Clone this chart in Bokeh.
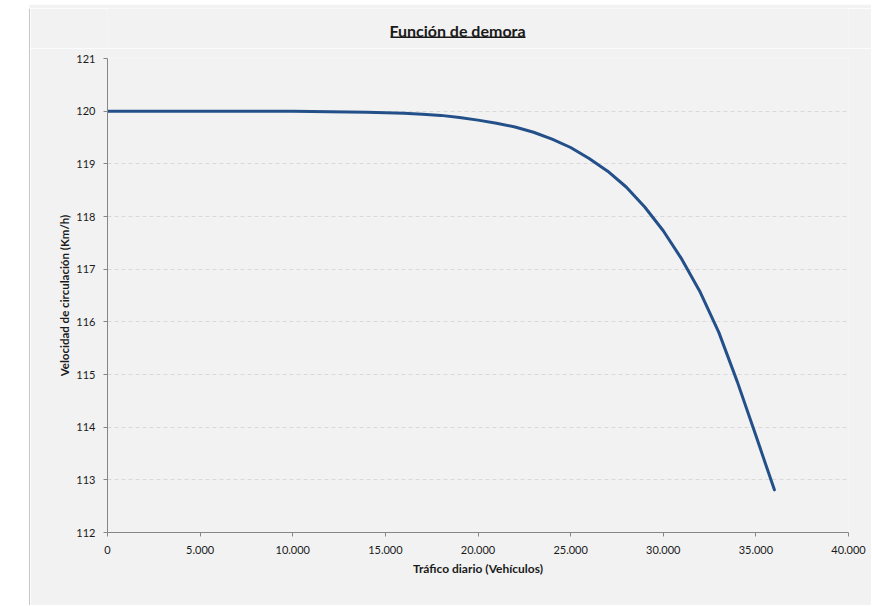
from bokeh.plotting import figure
from bokeh.layouts import row, column
from bokeh.models import FixedTicker, Range1d
from bokeh.core.properties import value
from bokeh.embed import file_html
from bokeh.resources import INLINE

# --- data ---
traffic = [0, 2500, 5000, 7500, 10000, 12000, 14000, 15000, 16000, 17000, 18000,
           19000, 20000, 21000, 22000, 23000, 24000, 25000, 26000, 27000, 28000,
           29000, 30000, 31000, 32000, 33000, 34000, 35000, 36000]
speed = [120.00, 120.00, 120.00, 120.00, 120.00, 119.99, 119.98, 119.97, 119.96, 119.94, 119.92,
         119.88, 119.83, 119.77, 119.70, 119.60, 119.47, 119.31, 119.10, 118.86, 118.56,
         118.18, 117.73, 117.19, 116.56, 115.80, 114.86, 113.84, 112.81]

x_ticks = [0, 5000, 10000, 15000, 20000, 25000, 30000, 35000, 40000]
x_tick_labels = ["0", "5.000", "10.000", "15.000", "20.000", "25.000", "30.000", "35.000", "40.000"]
y_ticks = [112, 113, 114, 115, 116, 117, 118, 119, 120, 121]

title_text = "Función de demora"
x_title = "Tráfico diario (Vehículos)"
y_title = "Velocidad de circulación (Km/h)"

FONT = "Lato"
BG = "#f2f2f2"
AXIS = "#868686"
BORDER = "#8c8c8c"
TXT = "#1a1a1a"

W = 841          # chart width (right of the border line)
TH = 40          # title strip height
PH = 557         # main plot height
LW = 30          # left white strip incl. border line
TOPH = 8         # top white strip incl. border line
MBL, MBR = 77, 23
FW = W - MBL - MBR   # frame width


def blank(width, height, xr, yr, bg, **kw):
    f = figure(width=width, height=height, output_backend="svg", toolbar_location=None,
               x_range=Range1d(*xr), y_range=Range1d(*yr), x_axis_type=None, y_axis_type=None,
               background_fill_color=bg, border_fill_color=bg, **kw)
    f.outline_line_color = None
    f.grid.visible = False
    return f


# ---- white strips carrying the chart-area border ----
top = blank(LW + W, TOPH, (0, LW + W), (0, TOPH), "white", min_border=0)
top.rect(x=[(LW + W + LW - 1) / 2], y=[TOPH / 2], width=[W + 1], height=[TOPH],
         fill_color=BG, line_color=None)
top.segment(x0=[LW - 1], y0=[0.5], x1=[LW + W], y1=[0.5], line_color=BORDER, line_width=1)

left = blank(LW, TH + PH, (0, LW), (0, TH + PH), "white", min_border=0)
left.segment(x0=[LW - 0.5], y0=[0], x1=[LW - 0.5], y1=[TH + PH], line_color=BORDER, line_width=1)

# ---- title strip (frame aligned with the main chart's frame) ----
t = blank(W, TH, (0, FW), (0, TH), BG, min_border_left=MBL, min_border_right=MBR,
          min_border_top=0, min_border_bottom=0)
t.text(x=[350], y=[18.5], text=[title_text], text_align="center",
       text_baseline="alphabetic", text_font=value(FONT), text_font_size="16px",
       text_font_style="bold", text_color=TXT)
t.segment(x0=[283], y0=[TH - 28.75], x1=[418], y1=[TH - 28.75], line_color=TXT, line_width=1.5)

# ---- main chart ----
p = figure(width=W, height=PH, output_backend="svg", toolbar_location=None,
           x_range=(0, 40000), y_range=(112, 121),
           min_border_left=MBL, min_border_right=MBR, min_border_top=10, min_border_bottom=73,
           background_fill_color=BG, border_fill_color=BG)
p.outline_line_color = None

p.line(traffic, speed, line_color="#24508a", line_width=3, line_join="round", line_cap="round")

p.xaxis.ticker = FixedTicker(ticks=x_ticks)
p.xaxis.major_label_overrides = {t_: l for t_, l in zip(x_ticks, x_tick_labels)}
p.yaxis.ticker = FixedTicker(ticks=y_ticks)
for ax in (p.xaxis, p.yaxis):
    ax.axis_line_color = AXIS
    ax.major_tick_line_color = AXIS
    ax.major_tick_in = 0
    ax.major_tick_out = 4
    ax.minor_tick_line_color = None
    ax.major_label_text_font = FONT
    ax.major_label_text_font_size = "11px"
    ax.major_label_text_color = TXT
    ax.axis_label_text_font = FONT
    ax.axis_label_text_font_style = "bold"
    ax.axis_label_text_color = TXT
p.xaxis.axis_label = x_title
p.yaxis.axis_label = y_title
p.xaxis.axis_label_text_font_size = "12px"
p.yaxis.axis_label_text_font_size = "11.5px"
p.xaxis.major_label_standoff = 9
p.yaxis.major_label_standoff = 8
p.xaxis.axis_label_standoff = 4
p.yaxis.axis_label_standoff = 2

p.xgrid.grid_line_color = None
p.ygrid.grid_line_color = "#d9d9d9"
p.ygrid.grid_line_dash = "4 3"
p.ygrid.grid_line_width = 1

layout = column(top, row(left, column(t, p, spacing=0), spacing=0), spacing=0)
open("out.html", "w").write(file_html(layout, INLINE))
